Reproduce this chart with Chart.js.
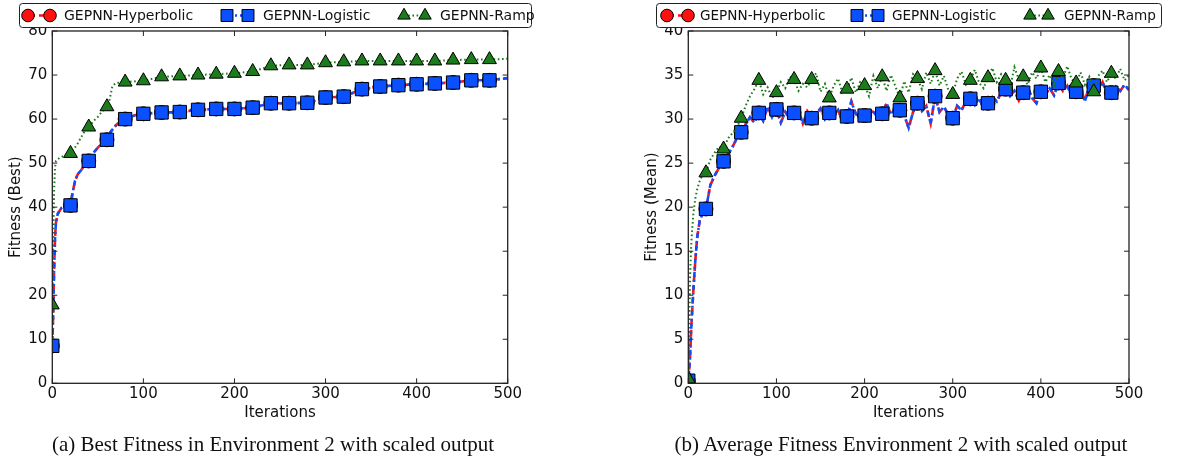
<!DOCTYPE html>
<html>
<head>
<meta charset="utf-8">
<script src="https://cdn.jsdelivr.net/npm/chart.js@4.4.1/dist/chart.umd.min.js"></script>
<style>
  html, body { margin: 0; padding: 0; background: #fff; }
  #wrap { position: relative; width: 1178px; height: 463px; overflow: hidden; background: #fff; }
  canvas { position: absolute; top: 0; }
  .cap { position: absolute; font-family: "Liberation Serif", "Times New Roman", serif; font-size: 21px; color: #111; white-space: nowrap; transform: translateX(-50%); top: 432px; }
</style>
</head>
<body>
<div id="wrap">
  <canvas id="c1" width="590" height="463" style="left:0px"></canvas>
  <canvas id="c2" width="588" height="463" style="left:590px"></canvas>
  <div class="cap" style="left:273px">(a) Best Fitness in Environment 2 with scaled output</div>
  <div class="cap" style="left:901px">(b) Average Fitness Environment 2 with scaled output</div>
</div>
<script>
// ---------------- DATA ----------------
const seriesNames = ['GEPNN-Hyperbolic', 'GEPNN-Logistic', 'GEPNN-Ramp'];
const xTicks = [0, 100, 200, 300, 400, 500];
const yTicksBest = [0, 10, 20, 30, 40, 50, 60, 70, 80];
const yTicksMean = [0, 5, 10, 15, 20, 25, 30, 35, 40];

// (a) Best fitness
const bestItersLog = [0,1,2,3,4,6,10,14,20,22,25,28,32,36,40,45,50,55,60,64,70,75,80,90,100,120,140,160,180,200,220,240,260,280,300,320,340,360,380,400,420,440,460,480,500];
const bestLogistic = [8.5,16,26,33,36.5,38.5,39.8,40.2,40.4,43,46,47.5,48.5,49.8,50.5,52.3,53.5,54.6,55.3,57.1,58.6,59.5,60.0,60.8,61.2,61.5,61.6,62.1,62.3,62.3,62.6,63.6,63.6,63.7,64.9,65.1,66.8,67.4,67.7,67.9,68.1,68.3,68.8,68.8,69.3];
const bestHyperbolic = bestLogistic.slice();
const bestItersRamp = [0,1,2,3,4,8,14,20,25,28,32,36,40,45,50,55,60,63,66,70,80,100,120,140,160,180,200,220,240,260,280,300,320,340,360,380,400,420,440,460,480,500];
const bestRamp = [17.8,32,44,49,50.5,51.2,51.8,52.2,53.6,54.5,56,57.4,58.2,59.5,60.5,61.8,62.8,64.5,67.5,68.2,68.4,68.7,69.6,69.8,70.0,70.2,70.4,70.8,72.1,72.3,72.3,72.8,73.0,73.2,73.2,73.2,73.2,73.2,73.4,73.5,73.5,73.7];

// (b) Mean fitness
const meanIters = [0,1,2,3,4,6,8,10,13,16,20,25,30,35,40,45,50,55,60,65,70,75,80,85,90,95,100,105,110,115,120,125,130,135,140,145,150,155,160,165,170,175,180,185,190,195,200,205,210,215,220,225,230,235,240,245,250,255,260,265,270,275,280,285,290,295,300,305,310,315,320,325,330,335,340,345,350,355,360,365,370,375,380,385,390,395,400,405,410,415,420,425,430,435,440,445,450,455,460,465,470,475,480,485,490,495,500];
const meanLogistic = [0.3,1.5,3.0,5.5,7.5,11,14,16.5,18.5,19.2,19.8,22.5,23.6,24.5,25.2,26.0,26.8,27.8,28.5,29.4,30.2,29.6,30.7,29.8,31.4,30.2,31.1,29.6,30.8,30.1,30.7,31.0,29.5,30.9,30.1,30.6,31.2,30.0,30.7,30.3,31.0,29.8,30.3,32.0,30.6,30.1,30.4,31.0,30.8,30.2,30.6,31.8,30.5,31.2,31.0,30.4,29.0,30.8,31.8,30.9,31.5,29.5,32.6,30.8,31.4,30.5,30.1,31.5,31.0,32.0,32.3,31.6,32.4,31.2,31.8,32.5,32.0,33.0,33.4,32.6,33.2,32.1,33.0,33.6,32.4,31.8,33.1,32.8,33.5,32.7,34.1,33.2,33.8,32.6,33.1,33.6,32.0,33.9,33.8,33.2,34.2,32.9,33.0,33.7,33.2,33.9,33.3];
const meanHyperbolic = meanLogistic.slice();
const meanRamp = [0.5,6,12,15,17,19.5,21,22,23,23.6,23.9,25.4,26.2,26.9,26.6,27.8,28.4,29.0,30.1,31.5,32.6,33.4,34.4,32.8,33.6,32.4,33.0,34.2,33.5,34.8,34.5,33.2,34.0,33.6,34.5,35.2,33.1,34.0,32.4,33.8,34.6,32.9,33.4,34.7,33.0,34.2,33.8,32.6,34.9,33.5,34.8,33.2,35.0,33.7,32.4,34.3,33.0,35.1,34.6,33.4,35.3,34.0,35.5,33.8,34.9,33.3,32.8,34.6,35.4,33.9,34.4,35.6,34.1,33.5,34.7,35.8,34.2,35.1,34.4,33.6,35.9,34.5,34.8,33.9,35.3,34.6,35.8,34.2,35.0,33.8,35.4,34.7,36.0,34.5,34.1,35.3,33.9,34.8,33.1,34.9,35.5,34.2,35.2,34.6,35.7,34.4,35.0];

// ---------------- STYLES ----------------
const RED = '#ff1010', BLUE = '#0a50ff', GREEN = '#1c7c1c';
const styles = [
  { color: RED,   dash: [7, 4],       width: 2.6, point: 'circle',   radius: 7.0 },
  { color: BLUE,  dash: [5, 3, 2, 3], width: 2.6, point: 'rect',     radius: 9.4 },
  { color: GREEN, dash: [1.6, 2.6],   width: 2.0, point: 'triangle', radius: 8.0 }
];

function pts(xs, ys) { return xs.map((x, i) => ({ x: x, y: ys[i] })); }
function markerRadius(r) {
  return ctx => (ctx.raw && ctx.raw.x % 20 === 0 && ctx.raw.x < 500) ? r : 0;
}
function makeDataset(i, data, order) {
  const s = styles[i];
  return {
    label: seriesNames[i], data: data, order: order,
    borderColor: s.color, borderWidth: s.width, borderDash: s.dash, borderCapStyle: 'butt',
    fill: false, tension: 0, clip: 0,
    pointStyle: s.point, pointRadius: markerRadius(s.radius), pointHoverRadius: markerRadius(s.radius),
    pointBackgroundColor: s.color, pointBorderColor: '#000', pointBorderWidth: 1
  };
}

// ---------------- PLUGINS ----------------
const framePlugin = {
  id: 'frame',
  afterDatasetsDraw(chart) {
    const { ctx, chartArea: a, scales } = chart;
    const x = scales.x, y = scales.y;
    ctx.save();
    ctx.strokeStyle = '#222'; ctx.lineWidth = 1.3; ctx.setLineDash([]);
    ctx.strokeRect(a.left, a.top, a.right - a.left, a.bottom - a.top);
    ctx.lineWidth = 1;
    ctx.beginPath();
    x.ticks.forEach(t => {
      const p = x.getPixelForValue(t.value);
      ctx.moveTo(p, a.bottom); ctx.lineTo(p, a.bottom - 5);
      ctx.moveTo(p, a.top); ctx.lineTo(p, a.top + 5);
    });
    y.ticks.forEach(t => {
      const p = y.getPixelForValue(t.value);
      ctx.moveTo(a.left, p); ctx.lineTo(a.left + 5, p);
      ctx.moveTo(a.right, p); ctx.lineTo(a.right - 5, p);
    });
    ctx.stroke();
    ctx.restore();
  }
};

function drawMarker(ctx, s, x, y, scale) {
  ctx.save();
  ctx.setLineDash([]);
  ctx.fillStyle = s.color; ctx.strokeStyle = '#000'; ctx.lineWidth = 1;
  ctx.beginPath();
  const r = s.radius * scale;
  if (s.point === 'circle') {
    ctx.arc(x, y, r, 0, Math.PI * 2);
  } else if (s.point === 'rect') {
    const h = r * Math.SQRT1_2;
    ctx.rect(x - h, y - h, 2 * h, 2 * h);
  } else {
    ctx.moveTo(x, y - r);
    ctx.lineTo(x + r * Math.sin(2 * Math.PI / 3), y - r * Math.cos(2 * Math.PI / 3));
    ctx.lineTo(x + r * Math.sin(4 * Math.PI / 3), y - r * Math.cos(4 * Math.PI / 3));
    ctx.closePath();
  }
  ctx.fill(); ctx.stroke();
  ctx.restore();
}

const legendPlugin = {
  id: 'boxLegend',
  afterDraw(chart, args, opts) {
    const ctx = chart.ctx;
    const b = opts.box;
    ctx.save();
    ctx.fillStyle = '#fff'; ctx.strokeStyle = '#222'; ctx.lineWidth = 1;
    ctx.beginPath();
    if (ctx.roundRect) ctx.roundRect(b.x, b.y, b.w, b.h, 3); else ctx.rect(b.x, b.y, b.w, b.h);
    ctx.fill(); ctx.stroke();
    const cy = b.y + b.h / 2;
    opts.entries.forEach((e, i) => {
      const s = styles[i];
      ctx.save();
      ctx.strokeStyle = s.color; ctx.lineWidth = s.width; ctx.setLineDash(s.dash);
      ctx.beginPath(); ctx.moveTo(e.m1, cy); ctx.lineTo(e.m2, cy); ctx.stroke();
      ctx.restore();
      drawMarker(ctx, s, e.m1, cy, 0.9);
      drawMarker(ctx, s, e.m2, cy, 0.9);
      ctx.fillStyle = '#111';
      ctx.font = opts.fontSize + 'px "DejaVu Sans"';
      ctx.textBaseline = 'middle'; ctx.textAlign = 'left';
      ctx.fillText(seriesNames[i], e.t, cy + 0.5);
    });
    ctx.restore();
  }
};

Chart.defaults.font.family = '"DejaVu Sans", sans-serif';
Chart.defaults.color = '#111';

function makeChart(id, datasets, yMax, yStep, yTickVals, yTitle, pad, legendOpts) {
  return new Chart(document.getElementById(id), {
    type: 'line',
    data: { datasets: datasets },
    options: {
      responsive: false, animation: false, devicePixelRatio: 1, events: [],
      layout: { padding: pad },
      plugins: { legend: { display: false }, tooltip: { enabled: false }, boxLegend: legendOpts },
      scales: {
        x: {
          type: 'linear', min: 0, max: 500,
          afterBuildTicks: sc => { sc.ticks = xTicks.map(v => ({ value: v })); },
          afterFit: sc => { sc.height = 39; },
          grid: { display: false, drawTicks: false },
          border: { display: false },
          ticks: { padding: 2, font: { size: 15 }, color: '#111', maxRotation: 0 },
          title: { display: true, text: 'Iterations', font: { size: 15 }, color: '#111', padding: { top: 0, bottom: 0 } }
        },
        y: {
          type: 'linear', min: 0, max: yMax,
          afterBuildTicks: sc => { sc.ticks = yTickVals.map(v => ({ value: v })); },
          afterFit: sc => { sc.width = 52.3; },
          grid: { display: false, drawTicks: false },
          border: { display: false },
          ticks: { padding: 5, font: { size: 15 }, color: '#111' },
          title: { display: true, text: yTitle, font: { size: 15 }, color: '#111', padding: { top: 7.5, bottom: 0 } }
        }
      }
    },
    plugins: [framePlugin, legendPlugin]
  });
}

makeChart('c1', [
  makeDataset(2, pts(bestItersRamp, bestRamp), 1),
  makeDataset(1, pts(bestItersLog, bestLogistic), 2),
  makeDataset(0, pts(bestItersLog, bestHyperbolic), 3)
], 80, 10, yTicksBest, 'Fitness (Best)',
  { left: 0, top: 31, right: 590 - 507.7, bottom: 463 - 383.3 - 39 },
  { box: { x: 19.5, y: 3.5, w: 512, h: 24 }, fontSize: 14,
    entries: [ { m1: 28, m2: 50, t: 64 }, { m1: 227, m2: 248, t: 263 }, { m1: 404, m2: 425, t: 440 } ] });

makeChart('c2', [
  makeDataset(2, pts(meanIters, meanRamp), 1),
  makeDataset(1, pts(meanIters, meanLogistic), 2),
  makeDataset(0, pts(meanIters, meanHyperbolic), 3)
], 40, 5, yTicksMean, 'Fitness (Mean)',
  { left: 98.3 - 52.3, top: 31, right: 588 - (1129 - 590), bottom: 463 - 383.3 - 39 },
  { box: { x: 656.5 - 590, y: 3.5, w: 505, h: 24 }, fontSize: 13.6,
    entries: [ { m1: 667 - 590, m2: 688 - 590, t: 700 - 590 }, { m1: 857 - 590, m2: 878 - 590, t: 892 - 590 }, { m1: 1030 - 590, m2: 1048 - 590, t: 1064 - 590 } ] });
</script>
</body>
</html>
